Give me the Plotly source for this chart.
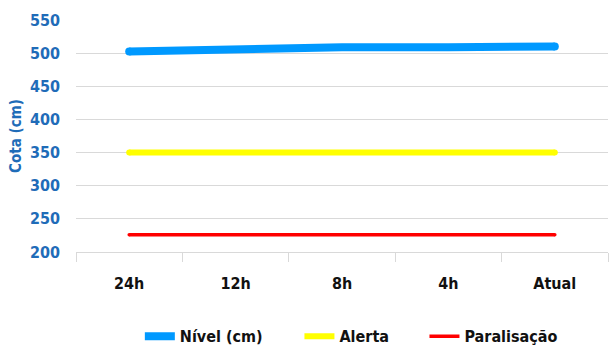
import plotly.graph_objects as go

# Water level readings over the last 24 hours and the reference thresholds
periods = ["24h", "12h", "8h", "4h", "Atual"]
nivel = [502.5, 507, 509, 509, 510]
alerta = [350, 350, 350, 350, 350]
paralisacao = [226, 226, 226, 226, 226]

FONT = "DejaVu Sans Condensed, Liberation Sans Narrow, Arial Narrow, sans-serif"
BLUE_TXT = "#1F6CB8"
GRID = "#D9D9D9"

series = [
    ("Nível (cm)", nivel, "#0099FF", 8, "legend", 0.12),
    ("Alerta", alerta, "#FFFF00", 6, "legend2", 0.42),
    ("Paralisação", paralisacao, "#FF0000", 3.5, "legend3", 0.655),
]

fig = go.Figure()
for name, vals, color, width, leg, _ in series:
    fig.add_trace(go.Scatter(
        x=periods, y=vals, name="<b>%s</b>" % name, mode="lines",
        line=dict(color=color, width=width), legend=leg,
    ))
    # round dots at both ends give the thick stroke rounded caps
    fig.add_trace(go.Scatter(
        x=[periods[0], periods[-1]], y=[vals[0], vals[-1]], mode="markers",
        marker=dict(color=color, size=width, line=dict(width=0)),
        showlegend=False, hoverinfo="skip",
    ))

legend_font = dict(family=FONT, size=16, color="#111111")
layout_legends = {}
for _, _, _, _, leg, xpos in series:
    layout_legends[leg] = dict(orientation="h", x=xpos, xanchor="left",
                               y=-0.29, yanchor="top", font=legend_font,
                               bgcolor="rgba(0,0,0,0)")

fig.update_layout(
    width=610, height=349,
    margin=dict(l=76, r=2, t=20, b=97, autoexpand=False),
    paper_bgcolor="white", plot_bgcolor="white",
    showlegend=True,
    yaxis=dict(range=[200, 550], dtick=50, showgrid=True, gridcolor=GRID,
               gridwidth=1, zeroline=False, ticklabelstandoff=15,
               tickprefix="<b>", ticksuffix="</b>",
               tickfont=dict(family=FONT, size=16, color=BLUE_TXT),
               title=dict(text="<b>Cota (cm)</b>", standoff=4,
                          font=dict(family=FONT, size=15, color=BLUE_TXT))),
    xaxis=dict(range=[-0.5, 4.5], showline=True, linecolor=GRID, linewidth=1,
               ticks="outside", tickson="boundaries", ticklen=9,
               tickcolor=GRID, showgrid=False, ticklabelstandoff=17,
               tickvals=periods, ticktext=["<b>%s</b>" % p for p in periods],
               tickfont=dict(family=FONT, size=16, color="#111111")),
    **layout_legends,
)

fig.write_html("out.html")
